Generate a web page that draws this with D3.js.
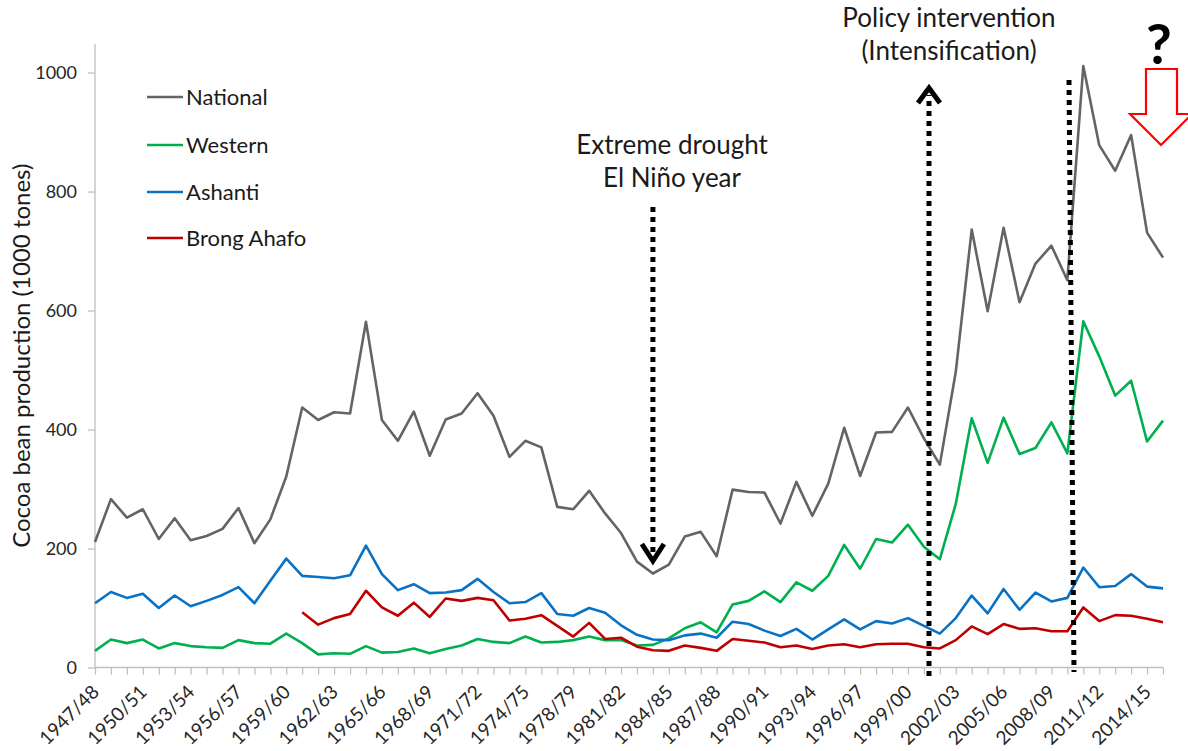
<!DOCTYPE html>
<html><head><meta charset="utf-8">
<script src="https://cdn.jsdelivr.net/npm/d3@7"></script>
<style>
html,body{margin:0;padding:0;background:#fff;}
svg{display:block;font-family:Lato,"Open Sans",sans-serif;}
</style></head>
<body>
<script>
const categories = ["1947/48","1948/49","1949/50","1950/51","1951/52","1952/53","1953/54","1954/55","1955/56","1956/57",
"1957/58","1958/59","1959/60","1960/61","1961/62","1962/63","1963/64","1964/65","1965/66","1966/67",
"1967/68","1968/69","1969/70","1970/71","1971/72","1972/73","1973/74","1974/75","1975/76","1977/78",
"1978/79","1979/80","1980/81","1981/82","1982/83","1983/84","1984/85","1985/86","1986/87","1987/88",
"1988/89","1989/90","1990/91","1991/92","1992/93","1993/94","1994/95","1995/96","1996/97","1997/98",
"1998/99","1999/00","2000/01","2001/02","2002/03","2003/04","2004/05","2005/06","2006/07","2007/08",
"2008/09","2009/10","2010/11","2011/12","2012/13","2013/14","2014/15","2015/16"];

const tickLabels = ["1947/48","1950/51","1953/54","1956/57","1959/60","1962/63","1965/66","1968/69","1971/72",
"1974/75","1978/79","1981/82","1984/85","1987/88","1990/91","1993/94","1996/97","1999/00","2002/03",
"2005/06","2008/09","2011/12","2014/15"];

const yTicks = [0,200,400,600,800,1000];

const national = [211,283,252,266,216,251,214,221,233,268,209,249,321,437,416,429,427,581,416,381,
430,356,417,427,461,423,354,381,370,270,266,297,259,226,178,158,173,220,228,187,
299,295,294,242,312,255,309,403,322,395,396,437,385,341,497,736,599,739,614,679,
709,651,1011,878,835,895,731,689];

const western = [28,47,41,47,32,41,36,34,33,46,41,40,57,41,22,24,23,36,25,26,
32,24,31,37,48,43,41,52,42,43,46,52,46,46,37,38,49,66,76,59,
106,112,128,110,143,129,154,206,166,216,210,240,203,182,275,419,344,420,359,369,
412,360,582,523,457,482,380,415];

const ashanti = [108,127,117,124,100,121,103,112,122,135,108,146,183,154,152,150,155,205,157,130,
140,125,126,130,149,127,108,110,125,90,87,100,92,71,55,47,46,54,57,50,
77,73,62,53,65,47,64,81,64,78,74,83,70,57,83,121,91,132,97,126,
111,117,168,135,137,157,136,133];

const brongAhafo = [null,null,null,null,null,null,null,null,null,null,null,null,null,93,72,83,90,129,101,87,
109,85,116,112,117,113,79,82,88,70,52,75,48,50,35,29,28,37,33,28,
48,45,42,34,37,31,37,39,34,39,40,40,34,32,46,69,56,73,65,66,
61,61,101,78,88,87,82,76];

const seriesNames = ["National","Western","Ashanti","Brong Ahafo"];
const seriesColors = ["#646464","#00b050","#0a72c4","#c00000"];
const seriesData = [national, western, ashanti, brongAhafo];

const W = 1188, H = 751;
const svg = d3.select("body").append("svg").attr("width", W).attr("height", H);

const x = d3.scalePoint().domain(categories).range([95, 1163]);
const y = d3.scaleLinear().domain([0, 1048]).range([667.5, 44]);

// Y axis
const yAxis = svg.append("g").attr("transform", "translate(95,0)")
  .call(d3.axisLeft(y).tickValues(yTicks).tickSize(7).tickPadding(11).tickFormat(d3.format("d")));
yAxis.select(".domain").attr("stroke", "#bfbfbf").attr("stroke-width", 1.3).attr("d", `M0,${y(0)}V44`);
yAxis.selectAll(".tick line").attr("stroke", "#bfbfbf").attr("stroke-width", 1.3);
yAxis.selectAll(".tick text").attr("fill", "#262626").style("font-size", "18px").style("font-family", "Lato");

// X axis
const xAxis = svg.append("g").attr("transform", `translate(0,${y(0)})`)
  .call(d3.axisBottom(x).tickSize(7).tickFormat(d => tickLabels.includes(d) ? d : ""));
xAxis.select(".domain").attr("stroke", "#bfbfbf").attr("stroke-width", 1.3).attr("d", `M95,0H1163`);
xAxis.selectAll(".tick line").attr("stroke", "#bfbfbf").attr("stroke-width", 1.3);
xAxis.selectAll(".tick text")
  .attr("fill", "#262626").style("font-size", "19px").style("font-family", "Lato")
  .attr("text-anchor", "end").attr("dy", "0.35em")
  .attr("transform", "translate(0,21) rotate(-45)").attr("y", 0).attr("x", 0);

// Y title
svg.append("text")
  .attr("transform", `translate(30,${(y(0)+44)/2}) rotate(-90)`)
  .attr("text-anchor", "middle")
  .style("font-size", "24px").attr("fill", "#1a1a1a")
  .text("Cocoa bean production (1000 tones)");

// Lines
const line = d3.line().defined(d => d != null)
  .x((d, i) => x(categories[i])).y(d => y(d));
seriesData.forEach((s, k) => {
  svg.append("path").datum(s)
    .attr("fill", "none").attr("stroke", seriesColors[k])
    .attr("stroke-width", 2.6).attr("stroke-linejoin", "round")
    .attr("d", line);
});

// Legend
const legY = [97, 145, 192, 238];
seriesNames.forEach((n, k) => {
  svg.append("line").attr("x1", 147).attr("x2", 183).attr("y1", legY[k]).attr("y2", legY[k])
    .attr("stroke", seriesColors[k]).attr("stroke-width", 2.6);
  svg.append("text").attr("x", 186).attr("y", legY[k]).attr("dy", "0.36em")
    .style("font-size", "22px").attr("fill", "#1a1a1a").text(n);
});

// Annotations
const ann = svg.append("g");
function dotted(x1, y1, x2, y2) {
  ann.append("line").attr("x1", x1).attr("y1", y1).attr("x2", x2).attr("y2", y2)
    .attr("stroke", "#000").attr("stroke-width", 5).attr("stroke-dasharray", "5,5");
}
// drought
const xd = x("1983/84");
dotted(xd, 207, xd, 555);
ann.append("path").attr("d", `M${xd-11},${544}L${xd},${561}L${xd+11},${544}`)
  .attr("fill", "none").attr("stroke", "#000").attr("stroke-width", 5);
ann.append("text").attr("x", 672).attr("y", 154).attr("text-anchor", "middle")
  .style("font-size", "26px").attr("fill", "#1a1a1a").text("Extreme drought");
ann.append("text").attr("x", 672).attr("y", 187).attr("text-anchor", "middle")
  .style("font-size", "26px").attr("fill", "#1a1a1a").text("El Niño year");

// policy
dotted(929, 676, 929, 95);
ann.append("path").attr("d", `M918,103L929,88L940,103`)
  .attr("fill", "none").attr("stroke", "#000").attr("stroke-width", 5);
ann.append("text").attr("x", 949).attr("y", 27).attr("text-anchor", "middle")
  .style("font-size", "26px").attr("fill", "#1a1a1a").text("Policy intervention");
ann.append("text").attr("x", 949).attr("y", 60).attr("text-anchor", "middle")
  .style("font-size", "26px").attr("fill", "#1a1a1a").text("(Intensification)");

// second dotted
dotted(1069, 80, 1074, 672);

// question mark and red arrow
ann.append("text").attr("x", 1159).attr("y", 64).attr("text-anchor", "middle")
  .style("font-size", "56px").style("font-weight", "bold").attr("fill", "#000").text("?");
ann.append("path")
  .attr("d", "M1146,69L1177,69L1177,114L1192,114L1161,145L1130,114L1146,114Z")
  .attr("fill", "#fff").attr("stroke", "#ff0000").attr("stroke-width", 2.2);
</script>
</body></html>
